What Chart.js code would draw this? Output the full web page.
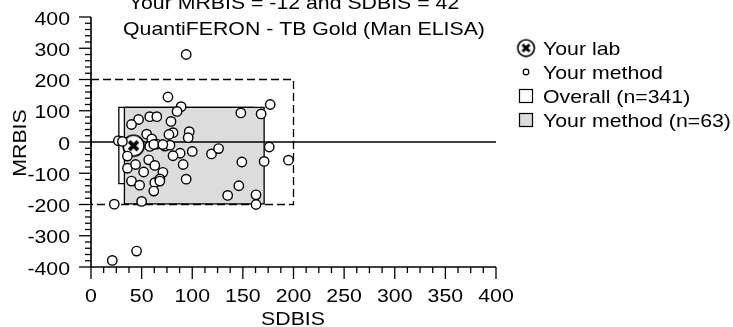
<!DOCTYPE html>
<html>
<head>
<title>BIS plot</title>
<script src="https://cdn.jsdelivr.net/npm/chart.js"></script>
<style>
body { margin:0; background:white; }
</style>
</head>
<body>
<canvas id="chart" width="733" height="327"></canvas>
<script>
// ---------------- DATA ----------------
const titleLines = ["Your MRBIS = -12 and SDBIS = 42", "QuantiFERON - TB Gold (Man ELISA)"];
const xTicks = [0, 50, 100, 150, 200, 250, 300, 350, 400];
const yTicks = [-400, -300, -200, -100, 0, 100, 200, 300, 400];

const labSDBIS = [42];
const labMRBIS = [-12];

const methodSDBIS = [94, 76, 89, 85, 47, 58, 65, 40, 79, 97, 96, 81, 77, 55, 60, 27, 31,
  58, 65, 73, 78, 88, 100, 81, 119, 126, 148, 177, 168, 176, 149, 171, 195, 146, 135, 163, 163,
  36, 44, 57, 63, 52, 71, 91, 94, 40, 48, 63, 68, 62, 50, 23, 45, 21, 36, 62, 71, 68];
const methodMRBIS = [280, 144, 113, 98, 72, 81, 81, 56, 66, 33, 14, 30, 24, 25, 10, 4, 2,
  -14, -7, -13, -10, -36, -30, -44, -38, -21, 93, 120, 90, -16, -64, -62, -58, -140, -171, -169, -200,
  -84, -72, -57, -75, -96, -97, -72, -119, -125, -138, -130, -118, -157, -190, -199, -349, -379, -45, -8, -8, -125];

// boxes: [sdbis from, sdbis to, mrbis from, mrbis to]
const overallBox = [27.5, 160, -133, 111];
const methodBox = [33, 171, -198, 111];
const limitBox = [0, 200, -200, 200];

const legendLabels = ["Your lab", "Your method", "Overall (n=341)", "Your method (n=63)"];

// ---------------- MARKER ----------------
function labMarker(r){
    const c = document.createElement("canvas");
    c.width = c.height = r*2+4;
    const g = c.getContext("2d");
    const m = r+2;
    g.fillStyle = "white";
    g.strokeStyle = "black";
    g.lineWidth = 1.6;
    g.beginPath(); g.arc(m,m,r,0,Math.PI*2); g.fill(); g.stroke();
    g.lineWidth = r*0.36;
    const k = r*0.42;
    g.beginPath();
    g.moveTo(m-k,m-k); g.lineTo(m+k,m+k);
    g.moveTo(m+k,m-k); g.lineTo(m-k,m+k);
    g.stroke();
    return c;
}

const FONT = "19px Arial, 'Liberation Sans', sans-serif";
const SX = 1.12; // text in the original is a bit wide

function txt(ctx, s, x, y, align){
    ctx.save();
    ctx.translate(x, y);
    ctx.scale(SX, 1);
    ctx.textAlign = align;
    ctx.fillText(s, 0, 0);
    ctx.restore();
}

// ---------------- FRAME PLUGIN ----------------
const frame = {
  id:"frame",
  beforeDatasetsDraw(chart){
    const {ctx, scales:{x,y}} = chart;
    const X = v=>x.getPixelForValue(v), Y = v=>y.getPixelForValue(v);
    ctx.save();
    ctx.strokeStyle = "black";
    ctx.lineWidth = 1.3;

    // overall box
    ctx.fillStyle = "white";
    ctx.beginPath();
    ctx.rect(X(overallBox[0]), Y(overallBox[3]), X(overallBox[1])-X(overallBox[0]), Y(overallBox[2])-Y(overallBox[3]));
    ctx.fill(); ctx.stroke();

    // your method box
    ctx.fillStyle = "#dcdcdc";
    ctx.beginPath();
    ctx.rect(X(methodBox[0]), Y(methodBox[3]), X(methodBox[1])-X(methodBox[0]), Y(methodBox[2])-Y(methodBox[3]));
    ctx.fill(); ctx.stroke();

    // limits
    ctx.setLineDash([8,4]);
    ctx.strokeRect(X(limitBox[0]), Y(limitBox[3]), X(limitBox[1])-X(limitBox[0]), Y(limitBox[2])-Y(limitBox[3]));
    ctx.setLineDash([]);

    // zero line
    ctx.beginPath();
    ctx.moveTo(X(0), Y(0)); ctx.lineTo(X(400), Y(0));
    ctx.stroke();
    ctx.restore();
  },
  afterDatasetsDraw(chart){
    const {ctx, scales:{x,y}} = chart;
    const X = v=>x.getPixelForValue(v), Y = v=>y.getPixelForValue(v);
    ctx.save();
    ctx.strokeStyle = "black";
    ctx.fillStyle = "black";
    ctx.lineWidth = 1.6;

    // axis lines
    ctx.beginPath();
    ctx.moveTo(X(0), Y(400)); ctx.lineTo(X(0), Y(-400));
    ctx.lineTo(X(400), Y(-400));
    ctx.stroke();

    // y ticks
    ctx.lineWidth = 1.3;
    for(let v=-400; v<=400; v+=20){
        const major = v%100===0;
        ctx.beginPath();
        ctx.moveTo(X(0)-(major?12:6), Y(v)); ctx.lineTo(X(0), Y(v));
        ctx.stroke();
    }
    // x ticks
    for(let v=0; v<=400; v+=12.5){
        const major = v%50===0;
        ctx.beginPath();
        ctx.moveTo(X(v), Y(-400)); ctx.lineTo(X(v), Y(-400)+(major?12:6));
        ctx.stroke();
    }

    ctx.font = FONT;
    ctx.textBaseline = "alphabetic";
    yTicks.forEach(v=>txt(ctx, String(v), 70, Y(v)+7.5, "right"));
    xTicks.forEach(v=>txt(ctx, String(v), X(v), 302, "center"));

    // axis titles
    txt(ctx, "SDBIS", 293, 325, "center");
    ctx.save();
    ctx.translate(26, 143);
    ctx.rotate(-Math.PI/2);
    txt(ctx, "MRBIS", 0, 0, "center");
    ctx.restore();

    // titles
    txt(ctx, titleLines[0], 294, 8.5, "center");
    txt(ctx, titleLines[1], 304, 35, "center");

    // legend
    const lx = 526, tx = 543, rows = [48, 72, 96, 120];
    legendLabels.forEach((t,i)=>txt(ctx, t, tx, rows[i]+6.5, "left"));

    ctx.drawImage(labMarker(8.3), lx-10.3, rows[0]-10.3);
    ctx.lineWidth = 1.2;
    ctx.fillStyle = "white";
    ctx.beginPath(); ctx.arc(lx, rows[1], 2.8, 0, Math.PI*2); ctx.fill(); ctx.stroke();
    ctx.fillRect(lx-6.5, rows[2]-6.5, 13, 13);
    ctx.strokeRect(lx-6.5, rows[2]-6.5, 13, 13);
    ctx.fillStyle = "#dcdcdc";
    ctx.fillRect(lx-6.5, rows[3]-6.5, 13, 13);
    ctx.strokeRect(lx-6.5, rows[3]-6.5, 13, 13);
    ctx.restore();
  }
};

// ---------------- CHART ----------------
new Chart(document.getElementById("chart"), {
    type:"scatter",
    data:{
        datasets:[
            {
                label:"Your method",
                data: methodSDBIS.map((v,i)=>({x:v, y:methodMRBIS[i]})),
                pointStyle:"circle",
                pointRadius:4.7,
                backgroundColor:"white",
                borderColor:"black",
                borderWidth:1.4
            },
            {
                label:"Your lab",
                data: labSDBIS.map((v,i)=>({x:v, y:labMRBIS[i]})),
                pointStyle: labMarker(10.5),
                pointRadius:12
            }
        ]
    },
    options:{
        responsive:false,
        animation:false,
        devicePixelRatio:1,
        layout:{ padding:{left:91, right:237, top:17, bottom:60} },
        scales:{
            x:{ type:"linear", min:0, max:400, display:false },
            y:{ type:"linear", min:-400, max:400, display:false }
        },
        plugins:{ legend:{display:false}, tooltip:{enabled:false} }
    },
    plugins:[frame]
});
</script>
</body>
</html>
